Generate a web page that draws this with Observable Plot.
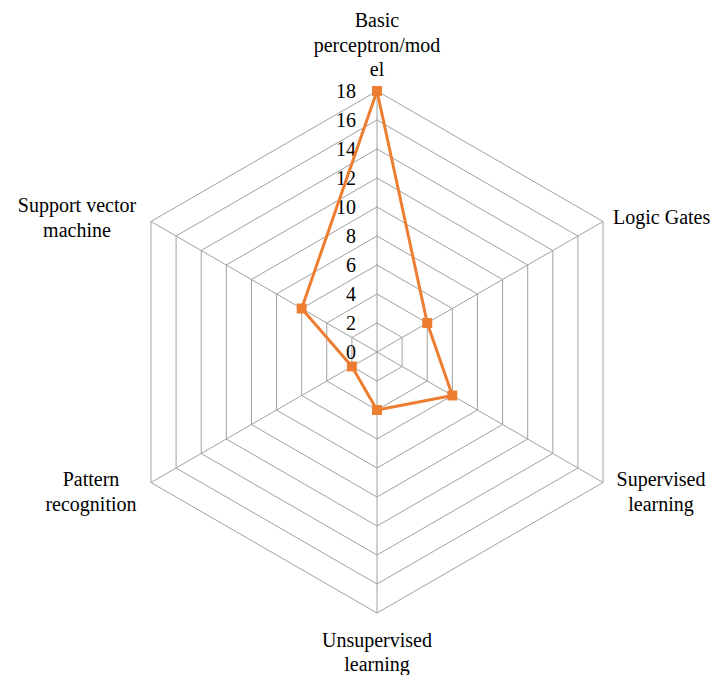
<!DOCTYPE html>
<html>
<head>
<meta charset="utf-8">
<script src="https://cdn.jsdelivr.net/npm/d3@7"></script>
<script src="https://cdn.jsdelivr.net/npm/@observablehq/plot@0.6"></script>
<style>
  html, body { margin: 0; padding: 0; background: #fff; }
  #chart svg { display: block; }
</style>
</head>
<body>
<div id="chart"></div>
<script>
const categories = ["Basic\nperceptron/mod\nel", "Logic Gates", "Supervised\nlearning", "Unsupervised\nlearning", "Pattern\nrecognition", "Support vector\nmachine"];
const values = [18, 4, 6, 4, 2, 6];
const tickValues = [0, 2, 4, 6, 8, 10, 12, 14, 16, 18];
const maxValue = 18;

const W = 716, H = 675;
const cx = 376.5, cy = 351.5, R = 261;
const k = R / maxValue;
const n = categories.length;
const ang = i => (i * 2 * Math.PI) / n;
const px = (v, i) => v * Math.sin(ang(i));
const py = (v, i) => v * Math.cos(ang(i));

// grid rings
const rings = [];
tickValues.forEach(t => {
  for (let i = 0; i <= n; i++) rings.push({ring: t, x: px(t, i % n), y: py(t, i % n)});
});
// spokes
const spokes = categories.map((c, i) => ({x2: px(maxValue, i), y2: py(maxValue, i)}));
// series
const series = values.map((v, i) => ({x: px(v, i), y: py(v, i)}));
const seriesClosed = [...series, series[0]];

const font = "Liberation Serif";
const labelOpts = [
  {dx: 0, dy: -47, textAnchor: "middle"},
  {dx: 10, dy: -5, textAnchor: "start"},
  {dx: 58, dy: 8, textAnchor: "middle"},
  {dx: 0, dy: 38, textAnchor: "middle"},
  {dx: -60, dy: 8, textAnchor: "middle"},
  {dx: -74, dy: -5, textAnchor: "middle"}
];
const labelMarks = categories.map((c, i) => Plot.text([c], {
  x: px(maxValue, i), y: py(maxValue, i), text: d => d,
  dx: labelOpts[i].dx, dy: labelOpts[i].dy, textAnchor: labelOpts[i].textAnchor,
  lineHeight: 1.22, fontSize: 20, fontFamily: font, fill: "#000"
}));

const chart = Plot.plot({
  width: W, height: H,
  marginTop: 0, marginRight: 0, marginBottom: 0, marginLeft: 0,
  x: {domain: [-cx / k, (W - cx) / k], range: [0, W], axis: null},
  y: {domain: [-(H - cy) / k, cy / k], range: [H, 0], axis: null},
  style: {background: "#fff", overflow: "visible"},
  marks: [
    Plot.line(rings, {x: "x", y: "y", z: "ring", stroke: "#a0a0a0", strokeWidth: 1}),
    Plot.link(spokes, {x1: 0, y1: 0, x2: "x2", y2: "y2", stroke: "#a0a0a0", strokeWidth: 1}),
    Plot.text(tickValues, {x: 0, y: d => d, text: d => String(d), textAnchor: "end", dx: -21, dy: 1, fontSize: 20, fontFamily: font, fill: "#000"}),
    Plot.line(seriesClosed, {x: "x", y: "y", stroke: "#ED7D31", strokeWidth: 3, curve: "linear"}),
    Plot.dot(series, {x: "x", y: "y", symbol: "square", r: 5.6, fill: "#ED7D31", stroke: "none"}),
    ...labelMarks
  ]
});
document.getElementById("chart").appendChild(chart);
</script>
</body>
</html>
